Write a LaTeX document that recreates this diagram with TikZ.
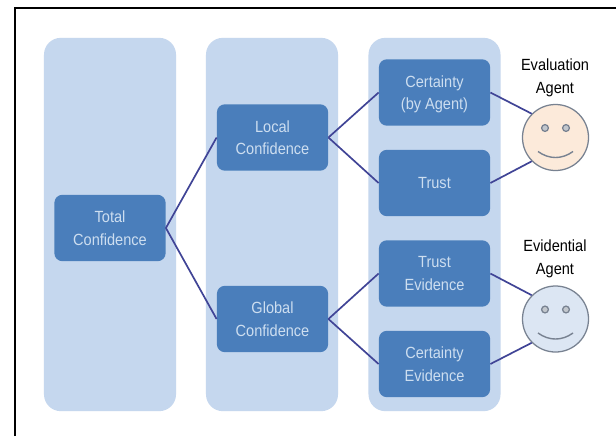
\documentclass[tikz,border=0pt]{standalone}
\usepackage{fontspec}
\setmainfont[FakeStretch=0.9]{Liberation Sans}
\usetikzlibrary{positioning}
\usetikzlibrary{calc}
\definecolor{panelblue}{RGB}{197,215,238}
\definecolor{boxblue}{RGB}{74,126,187}
\definecolor{boxtext}{RGB}{205,222,240}
\definecolor{linkblue}{RGB}{64,68,150}
\definecolor{faceline}{RGB}{120,130,145}
\definecolor{peach}{RGB}{252,234,218}
\definecolor{paleblue}{RGB}{220,230,243}
\begin{document}
\begin{tikzpicture}[
  x=0.025cm, y=-0.025cm,
  panel/.style={fill=panelblue, rounded corners=0.42cm, minimum width=3.3cm, minimum height=9.33cm},
  box/.style={fill=boxblue, rounded corners=0.2cm, text=boxtext, align=center, minimum width=2.78cm, minimum height=1.66cm, font=\fontsize{11.5}{16}\selectfont},
  link/.style={very thick, linkblue},
  face/.style={circle, draw=faceline, line width=0.9pt, minimum size=1.65cm, inner sep=0pt},
  eye/.style={circle, draw=faceline, line width=0.9pt, fill=faceline!45, minimum size=0.17cm, inner sep=0pt},
  smile/.style={faceline, line width=1pt},
  agent/.style={align=center, text=black, font=\fontsize{11.5}{16}\selectfont}
]
\useasboundingbox (0,0) rectangle (616,436);
% Frame
\fill[white] (0,0) rectangle (616,436);
\draw[black, line width=1.2pt] (15,436) -- (15,8) -- (616,8);

% Panels
\node[panel] (left) at (110,224.5) {};
\node[panel] (middle) at (272,224.5) {};
\node[panel] (right) at (434.5,224.5) {};

% Boxes
\node[box] (total) at (110,228) {Total\\Confidence};
\node[box] (local) at (272.5,137.5) {Local\\Confidence};
\node[box] (global) at (272.5,319) {Global\\Confidence};
\node[box] (certainty) at (434.5,92.5) {Certainty\\\raisebox{0pt}[\height][0pt]{(by Agent)}};
\node[box] (trust) at (434.5,183) {Trust};
\node[box] (trustev) at (434.5,273.5) {Trust\\Evidence};
\node[box] (certev) at (434.5,364) {Certainty\\Evidence};

% Agents
\node[face, fill=peach] (evalface) at (555.5,137.5) {};
\node[face, fill=paleblue] (evidface) at (555.5,319) {};
\node[agent] (evallabel) at (555,78) {Evaluation\\Agent};
\node[agent] (evidlabel) at (555,259) {Evidential\\Agent};

\node[eye] (evaleyea) at ($(evalface)+(-10.5,-9.5)$) {};
\node[eye] (evaleyeb) at ($(evalface)+(10.5,-9.5)$) {};
\node[eye] (evideyea) at ($(evidface)+(-10.5,-9.5)$) {};
\node[eye] (evideyeb) at ($(evidface)+(10.5,-9.5)$) {};
\draw[smile] ($(evalface)+(-17.5,14)$) to[bend right=36] ($(evalface)+(17.5,14)$);
\draw[smile] ($(evidface)+(-17.5,14)$) to[bend right=36] ($(evidface)+(17.5,14)$);

% Links
\draw[link] (total.east) -- (local.west);
\draw[link] (total.east) -- (global.west);
\draw[link] (local.east) -- (certainty.west);
\draw[link] (local.east) -- (trust.west);
\draw[link] (global.east) -- (trustev.west);
\draw[link] (global.east) -- (certev.west);
\draw[link] (certainty.east) -- (evalface.135);
\draw[link] (trust.east) -- (evalface.225);
\draw[link] (trustev.east) -- (evidface.135);
\draw[link] (certev.east) -- (evidface.225);
\end{tikzpicture}
\end{document}
